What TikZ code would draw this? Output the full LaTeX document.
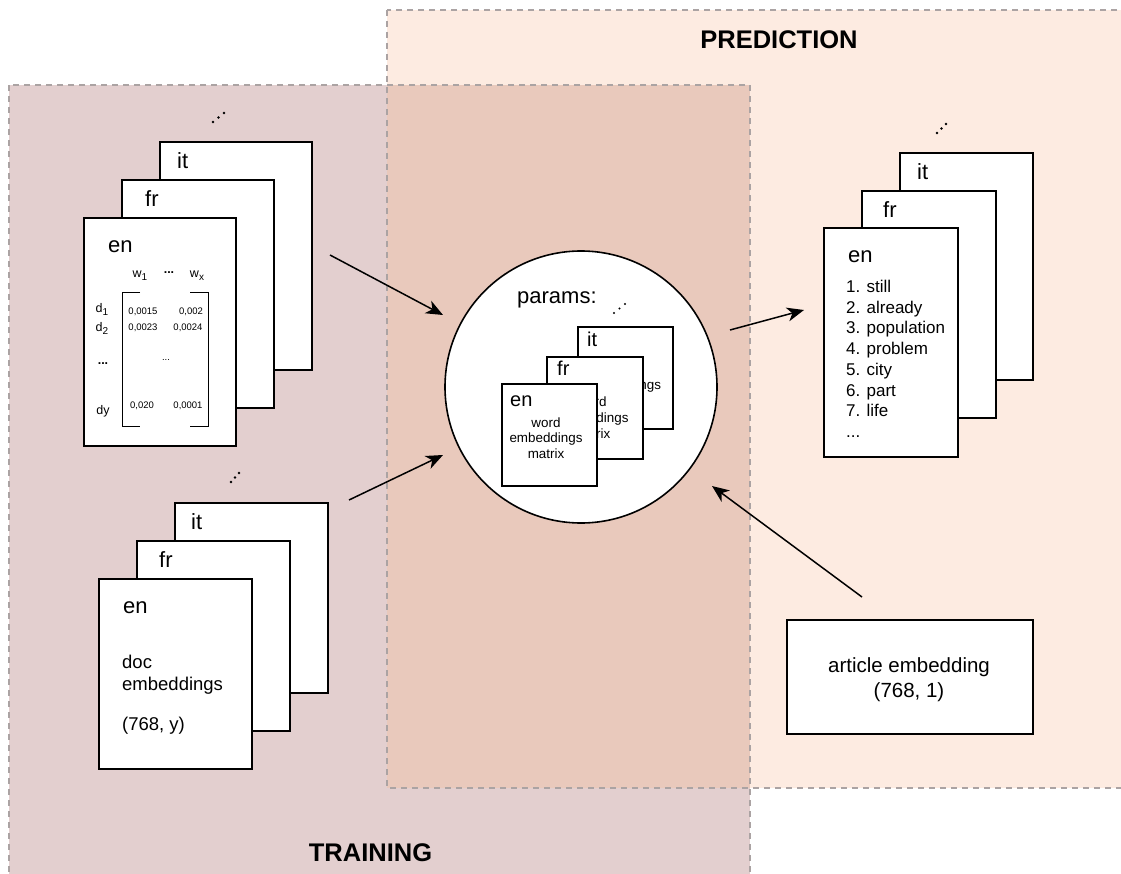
\documentclass[tikz,border=0pt]{standalone}
\usepackage{fontspec}
\setmainfont{Liberation Sans}
\usetikzlibrary{arrows.meta}
\definecolor{trainc}{HTML}{E3CFCF}
\definecolor{predc}{HTML}{FDEBE1}
\definecolor{overc}{HTML}{E9C9BC}
\definecolor{dashc}{HTML}{ABA3A3}
\newcommand\fsz[2]{\fontsize{#1}{#2}\selectfont}
\newcommand\sub[1]{\raisebox{-3pt}{\fsz{10}{12}#1}}
\tikzset{
  card/.style={draw=black, fill=white, line width=1.6pt, inner sep=0pt, anchor=north west},
  lbl/.style={anchor=base west, inner sep=0pt, font=\fsz{22}{26}},
  txt/.style={inner sep=0pt, font=\fsz{17}{20}},
  wtxt/.style={anchor=base, inner sep=0pt, font=\fsz{13.4}{16}},
  mlab/.style={inner sep=0pt, font=\fsz{12.5}{15}},
  mval/.style={inner sep=0pt, font=\fsz{9.5}{11}},
  region/.style={draw=dashc, line width=1.3pt, dash pattern=on 6pt off 5pt},
  conn/.style={line width=1.5pt, -{Stealth[length=17pt,width=14pt,inset=5pt]}},
  title/.style={anchor=base, inner sep=0pt, font=\fsz{25.5}{30}\bfseries},
  dot/.style={fill=black}
}
\begin{document}
\begin{tikzpicture}[x=1pt,y=-1pt]
\useasboundingbox (0,0) rectangle (1121,874);
\clip (0,0) rectangle (1121,874);
% regions
\fill[trainc] (9,85) rectangle (750,900);
\fill[predc] (387,10) rectangle (1140,788);
\fill[overc] (387,85) rectangle (750,788);
\draw[region] (9,85) rectangle (750,900);
\draw[region] (387,10) rectangle (1140,788);
\node[title] (tpred) at (779,49) {PREDICTION};
\node[title] (ttrain) at (370.5,861) {TRAINING};

% top-left stack
\foreach \x/\y in {213/122,218.5/117.5,224/113} \fill[dot] (\x,\y) circle (1.3);
\node[card, minimum width=152pt, minimum height=228pt] (tit) at (159,141) {};
\node[lbl] (titl) at (177,169) {it};
\node[card, minimum width=152pt, minimum height=228pt] (tfr) at (121,179) {};
\node[lbl] (tfrl) at (145,207) {fr};
\node[card, minimum width=152pt, minimum height=228pt] (ten) at (83,217) {};
\node[lbl] (tenl) at (108,253) {en};
\node[mlab] (w1) at (140,276) {w\sub{1}};
\node[mlab, font=\fsz{12.5}{15}\bfseries] (wd) at (169,273) {...};
\node[mlab] (wx) at (197,276) {w\sub{x}};
\node[mlab] (d1) at (102,309) {d\sub{1}};
\node[mlab] (d2) at (102,328) {d\sub{2}};
\node[mlab, font=\fsz{12.5}{15}\bfseries] (dd) at (103,364) {...};
\node[mlab] (dy) at (103,411) {dy};
\node[mval] (v11) at (143,312) {0,0015};
\node[mval] (v12) at (191,312) {0,002};
\node[mval] (v21) at (143,328) {0,0023};
\node[mval] (v22) at (188,328) {0,0024};
\node[mval] (vd) at (166,360) {...};
\node[mval] (vy1) at (142,406) {0,020};
\node[mval] (vy2) at (188,406) {0,0001};
\draw[line width=1pt] (140,293) -- (122,293) -- (122,426) -- (140,426);
\draw[line width=1pt] (190,293) -- (208,293) -- (208,426) -- (190,426);

% bottom-left stack
\foreach \x/\y in {231/482,235/477.5,239/473} \fill[dot] (\x,\y) circle (1.3);
\node[card, minimum width=153pt, minimum height=190pt] (bit) at (174,502) {};
\node[lbl] (bitl) at (191,529) {it};
\node[card, minimum width=153pt, minimum height=190pt] (bfr) at (136,540) {};
\node[lbl] (bfrl) at (159,567) {fr};
\node[card, minimum width=153pt, minimum height=190pt] (ben) at (98,578) {};
\node[lbl] (benl) at (123,613) {en};
\node[anchor=base west, inner sep=0pt, font=\fsz{18.5}{22}] (bdoc) at (122,668) {doc};
\node[anchor=base west, inner sep=0pt, font=\fsz{18.5}{22}] (bemb) at (122,690) {embeddings};
\node[anchor=base west, inner sep=0pt, font=\fsz{18.5}{22}] (bdim) at (122,730) {(768, y)};

% params circle
\node[draw=black, fill=white, circle, line width=1.6pt, minimum size=272pt, inner sep=0pt] (params) at (581,387) {};
\node[lbl] (paraml) at (517,304) {params:};
\foreach \x/\y in {614/313,619.5/308.5,625/304} \fill[dot] (\x,\y) circle (1.2);
\node[card, minimum width=95pt, minimum height=102pt] (pit) at (577,326) {};
\node[lbl, font=\fsz{20}{24}] (pitl) at (587,347) {it};
\node[wtxt] (pit1) at (624.5,373) {word};
\node[wtxt] (pit2) at (624.5,389) {embeddings};
\node[wtxt] (pit3) at (624.5,405) {matrix};
\node[card, minimum width=96pt, minimum height=102pt] (pfr) at (546,356) {};
\node[lbl, font=\fsz{20}{24}] (pfrl) at (557,375) {fr};
\node[wtxt] (pfr1) at (592,406) {word};
\node[wtxt] (pfr2) at (592,422) {embeddings};
\node[wtxt] (pfr3) at (592,438) {matrix};
\node[card, minimum width=95pt, minimum height=102pt] (pen) at (501,383) {};
\node[lbl, font=\fsz{20}{24}] (penl) at (510,406) {en};
\node[wtxt] (pen1) at (546,427) {word};
\node[wtxt] (pen2) at (546,442) {embeddings};
\node[wtxt] (pen3) at (546,458) {matrix};

% right stack
\foreach \x/\y in {937/133,941.5/128.5,946/124} \fill[dot] (\x,\y) circle (1.3);
\node[card, minimum width=133pt, minimum height=227pt] (rit) at (899,152) {};
\node[lbl] (ritl) at (917,180) {it};
\node[card, minimum width=134pt, minimum height=227pt] (rfr) at (861,190) {};
\node[lbl] (rfrl) at (883,218) {fr};
\node[card, minimum width=134pt, minimum height=229pt] (ren) at (823,227) {};
\node[lbl] (renl) at (848,263) {en};
\node[txt, anchor=base west] (r1) at (846,293) {1. still};
\node[txt, anchor=base west] (r2) at (846,313.5) {2. already};
\node[txt, anchor=base west] (r3) at (846,334) {3. population};
\node[txt, anchor=base west] (r4) at (846,355) {4. problem};
\node[txt, anchor=base west] (r5) at (846,375.5) {5. city};
\node[txt, anchor=base west] (r6) at (846,396) {6. part};
\node[txt, anchor=base west] (r7) at (846,416.5) {7. life};
\node[txt, anchor=base west] (r8) at (846,437) {...};

% article embedding
\node[card, minimum width=246pt, minimum height=114pt] (art) at (786,619) {};
\node[anchor=base, inner sep=0pt, font=\fsz{20.5}{24}] (art1) at (909,672) {article embedding};
\node[anchor=base, inner sep=0pt, font=\fsz{20.5}{24}] (art2) at (909,697) {(768, 1)};

% connectors
\coordinate (a1s) at (330,255);
\coordinate (a1e) at (443,315);
\coordinate (a2s) at (349,500);
\coordinate (a2e) at (443,455);
\coordinate (a3s) at (730,330);
\coordinate (a3e) at (804,310);
\coordinate (a4s) at (862,597);
\coordinate (a4e) at (712,486);
\draw[conn] (a1s) -- (a1e);
\draw[conn] (a2s) -- (a2e);
\draw[conn] (a3s) -- (a3e);
\draw[conn] (a4s) -- (a4e);
\end{tikzpicture}
\end{document}
